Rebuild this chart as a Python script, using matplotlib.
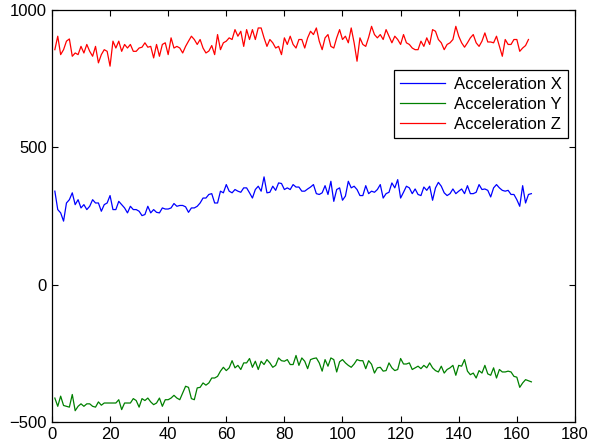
import numpy as np
import matplotlib.pyplot as plt

plt.rcParams['font.family'] = ['Liberation Sans', 'DejaVu Sans']

# accelerometer readings, one sample per index
acc_x = [340, 273, 261, 231, 297, 309, 334, 291, 309, 279, 291, 273, 285, 309, 297, 297, 267, 291, 297, 324,
         273, 273, 303, 291, 279, 261, 285, 273, 273, 267, 251, 255, 285, 261, 273, 263, 261, 279, 275, 275,
         279, 295, 285, 288, 288, 283, 263, 279, 279, 285, 297, 315, 315, 328, 331,
         297, 297, 340, 334, 364, 340, 334, 346, 340, 336, 352, 352, 334, 315, 346, 358, 340, 392, 334, 336,
         358, 343, 370, 368, 346, 352, 346, 364, 355, 355, 340, 340, 348, 355, 364, 331, 328, 334, 360, 328,
         376, 303, 346, 352, 307, 322, 376, 352, 358, 346, 324, 324, 360, 331, 340,
         336, 346, 364, 315, 331, 336, 370, 352, 382, 315, 336, 358, 352, 331, 348, 328, 324, 355, 343, 358,
         307, 352, 372, 358, 334, 324, 331, 348, 331, 340, 348, 331, 360, 331, 331, 336, 364, 346, 348, 343,
         319, 352, 364, 352, 343, 340, 343, 328, 328, 309, 285, 360, 297, 328, 331]

acc_y = [-413, -443, -406, -440, -443, -446, -400, -459, -443, -434, -443, -434, -434, -443, -446, -427, -439,
         -431, -431, -431, -431, -431, -419, -455, -431, -431, -431, -415, -422, -446, -415, -422, -413, -427,
         -437, -431, -413, -443, -419, -419, -413, -403, -413, -419, -394, -370, -374, -415, -419, -376, -374,
         -358, -366, -358, -340,
         -340, -334, -315, -301, -313, -303, -277, -303, -294, -309, -285, -285, -269, -301, -279, -309, -279,
         -291, -273, -285, -301, -294, -267, -277, -279, -273, -291, -291, -258, -294, -267, -279, -306, -273,
         -269, -267, -285, -315, -273, -297, -267, -273, -318, -281, -273, -285, -294, -301, -289, -273, -277,
         -277, -306, -277, -290,
         -322, -303, -301, -315, -313, -285, -303, -313, -309, -269, -289, -289, -285, -309, -303, -297, -306,
         -294, -303, -285, -303, -313, -318, -297, -322, -309, -303, -294, -330, -294, -297, -273, -315, -328,
         -322, -340, -313, -322, -294, -325, -330, -303, -340, -309, -318, -318, -315, -318, -334, -337, -374,
         -358, -346, -350, -354]

acc_z = [855, 904, 837, 855, 886, 894, 831, 843, 837, 867, 843, 874, 849, 831, 867, 807, 837, 855, 849, 795,
         886, 861, 886, 849, 874, 861, 874, 849, 849, 861, 864, 880, 864, 867, 825, 874, 831, 874, 880, 837,
         898, 861, 867, 861, 843, 867, 886, 904, 892, 874, 892, 861, 843, 850, 870,
         837, 910, 855, 880, 886, 898, 892, 928, 904, 922, 867, 928, 892, 928, 892, 934, 934, 898, 867, 892,
         880, 861, 867, 837, 898, 874, 904, 874, 861, 892, 892, 861, 898, 922, 910, 934, 886, 855, 898, 910,
         867, 861, 898, 928, 892, 904, 880, 934, 880, 813, 898, 874, 867, 900, 940,
         910, 898, 910, 892, 928, 904, 880, 904, 892, 874, 910, 880, 874, 861, 855, 855, 886, 867, 898, 874,
         928, 922, 892, 880, 855, 874, 880, 892, 940, 904, 880, 864, 880, 898, 910, 880, 867, 886, 916, 883,
         883, 880, 904, 867, 831, 892, 874, 874, 892, 892, 849, 861, 870, 892]

fig = plt.figure(figsize=(6.11, 4.47), dpi=100)
ax = fig.add_axes([0.085, 0.056, 0.856, 0.922])

ax.plot(np.arange(1, len(acc_x) + 1), acc_x, color='#0000ff', lw=0.9, label='Acceleration X')
ax.plot(np.arange(1, len(acc_y) + 1), acc_y, color='#008000', lw=0.9, label='Acceleration Y')
ax.plot(np.arange(1, len(acc_z) + 1), acc_z, color='#ff0000', lw=0.9, label='Acceleration Z')

ax.set_xlim(0, 180)
ax.set_ylim(-500, 1000)
ax.set_xticks(np.arange(0, 181, 20))
ax.set_yticks([-500, 0, 500, 1000])
ax.tick_params(direction='in', top=True, right=True, length=4, labelsize=12)
for s in ax.spines.values():
    s.set_linewidth(0.9)

leg = ax.legend(loc='upper right', bbox_to_anchor=(0.987, 0.854), fontsize=12,
                fancybox=False, framealpha=1, edgecolor='black',
                handlelength=2.7, borderpad=0.4, labelspacing=0.3, handletextpad=0.5,
                borderaxespad=0)
leg.get_frame().set_linewidth(0.9)

fig.savefig('out.png', dpi=100)
